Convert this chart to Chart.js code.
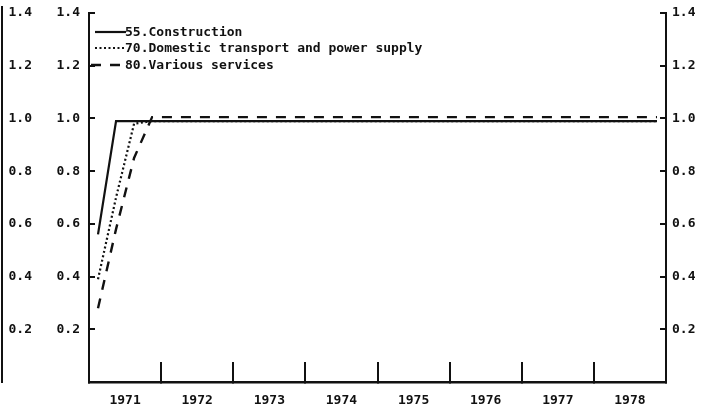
<!DOCTYPE html>
<html>
<head>
<meta charset="utf-8">
<script src="https://cdn.jsdelivr.net/npm/chart.js@4/dist/chart.umd.min.js"></script>
<style>
  html, body { margin: 0; padding: 0; background: #fff; }
  canvas { display: block; }
</style>
</head>
<body>
<canvas id="chart" width="714" height="413"></canvas>
<script>
// year labels on the x axis
const years = ['1971', '1972', '1973', '1974', '1975', '1976', '1977', '1978'];

// quarterly observations, plotted at the middle of each quarter
const quarters = [];
years.forEach(y => {
    [0.125, 0.375, 0.625, 0.875].forEach(q => quarters.push(Number(y) + q));
});

const construction = [0.56, 0.99, 0.99, 0.99, 0.99, 0.99, 0.99, 0.99,
    0.99, 0.99, 0.99, 0.99, 0.99, 0.99, 0.99, 0.99,
    0.99, 0.99, 0.99, 0.99, 0.99, 0.99, 0.99, 0.99,
    0.99, 0.99, 0.99, 0.99, 0.99, 0.99, 0.99, 0.99];

const transport = [0.39, 0.70, 0.98, 0.99, 0.99, 0.99, 0.99, 0.99,
    0.99, 0.99, 0.99, 0.99, 0.99, 0.99, 0.99, 0.99,
    0.99, 0.99, 0.99, 0.99, 0.99, 0.99, 0.99, 0.99,
    0.99, 0.99, 0.99, 0.99, 0.99, 0.99, 0.99, 0.99];

const services = [0.28, 0.58, 0.85, 1.005, 1.005, 1.005, 1.005, 1.005,
    1.005, 1.005, 1.005, 1.005, 1.005, 1.005, 1.005, 1.005,
    1.005, 1.005, 1.005, 1.005, 1.005, 1.005, 1.005, 1.005,
    1.005, 1.005, 1.005, 1.005, 1.005, 1.005, 1.005, 1.005];

const seriesNames = ['55.Construction', '70.Domestic transport and power supply', '80.Various services'];

const ink = '#111';
const font = { family: 'DejaVu Sans Mono', size: 13, weight: 'bold' };

function toPoints(values) {
    return values.map((v, i) => ({ x: quarters[i], y: v }));
}

// legend drawn inside the plot, top left
const innerLegend = {
    id: 'innerLegend',
    afterDatasetsDraw(chart) {
        const ctx = chart.ctx;
        const rows = [32, 48, 65];
        ctx.save();
        chart.data.datasets.forEach((ds, i) => {
            const y = rows[i];
            ctx.strokeStyle = ink;
            ctx.lineWidth = ds.borderWidth;
            ctx.setLineDash(ds.borderDash || []);
            ctx.beginPath();
            ctx.moveTo(i === 2 ? 91 : 95, y);
            ctx.lineTo(126, y);
            ctx.stroke();
            ctx.setLineDash([]);
            ctx.fillStyle = ink;
            ctx.font = 'bold 13px "DejaVu Sans Mono"';
            ctx.textBaseline = 'middle';
            ctx.textAlign = 'left';
            ctx.fillText(ds.label, 125, y + 1);
        });
        // edge of the neighbouring frame on the scan
        ctx.strokeStyle = ink;
        ctx.lineWidth = 2;
        ctx.beginPath();
        ctx.moveTo(2, 6);
        ctx.lineTo(2, 383);
        ctx.stroke();
        ctx.restore();
    }
};

const yTicks = {
    color: ink,
    font: font,
    stepSize: 0.2,
    callback: v => (v === 0 ? '' : v.toFixed(1))
};

// fixed axis width, and no extra room asked for the end labels
function fixWidth(w) {
    return s => {
        s.width = w;
        s.paddingTop = 0;
        s.paddingBottom = 0;
    };
}

new Chart(document.getElementById('chart'), {
    type: 'line',
    data: {
        datasets: [
            {
                label: seriesNames[0],
                data: toPoints(construction),
                borderColor: ink,
                borderWidth: 2.2,
                pointRadius: 0,
                tension: 0,
                xAxisID: 'x',
                yAxisID: 'y'
            },
            {
                label: seriesNames[1],
                data: toPoints(transport),
                borderColor: ink,
                borderWidth: 2.2,
                borderDash: [2, 2.5],
                pointRadius: 0,
                tension: 0,
                xAxisID: 'x',
                yAxisID: 'y'
            },
            {
                label: seriesNames[2],
                data: toPoints(services),
                borderColor: ink,
                borderWidth: 2.4,
                borderDash: [10, 9],
                pointRadius: 0,
                tension: 0,
                xAxisID: 'x',
                yAxisID: 'y'
            }
        ]
    },
    options: {
        responsive: false,
        animation: false,
        layout: { padding: { top: 13, right: 0, bottom: 0, left: 0 } },
        plugins: {
            legend: { display: false },
            tooltip: { enabled: false }
        },
        scales: {
            x: {
                type: 'linear',
                display: false,
                min: 1971,
                max: 1979
            },
            xc: {
                type: 'category',
                labels: years,
                position: 'bottom',
                offset: true,
                grid: {
                    offset: true,
                    drawOnChartArea: false,
                    drawTicks: true,
                    tickLength: -20,
                    color: ink,
                    lineWidth: 2
                },
                border: { display: true, color: ink, width: 2.5 },
                ticks: { color: ink, font: { family: 'DejaVu Sans Mono', size: 13, weight: 'bold' }, padding: 31, maxRotation: 0 },
                afterFit: s => { s.height = 31; }
            },
            y2: {
                position: 'left',
                weight: 10,
                min: 0,
                max: 1.4,
                grid: { display: false, drawTicks: false },
                border: { display: false },
                ticks: Object.assign({}, yTicks, { padding: 13 }),
                afterFit: fixWidth(45)
            },
            y: {
                position: 'left',
                weight: 0,
                min: 0,
                max: 1.4,
                grid: { drawOnChartArea: false, drawTicks: true, tickLength: -6, color: ink, lineWidth: 2 },
                border: { display: true, color: ink, width: 2 },
                ticks: Object.assign({}, yTicks, { padding: 15 }),
                afterFit: fixWidth(44)
            },
            yR: {
                position: 'right',
                min: 0,
                max: 1.4,
                grid: { drawOnChartArea: false, drawTicks: true, tickLength: -6, color: ink, lineWidth: 2 },
                border: { display: true, color: ink, width: 2 },
                ticks: Object.assign({}, yTicks, { padding: 12 }),
                afterFit: fixWidth(48)
            }
        }
    },
    plugins: [innerLegend]
});
</script>
</body>
</html>
